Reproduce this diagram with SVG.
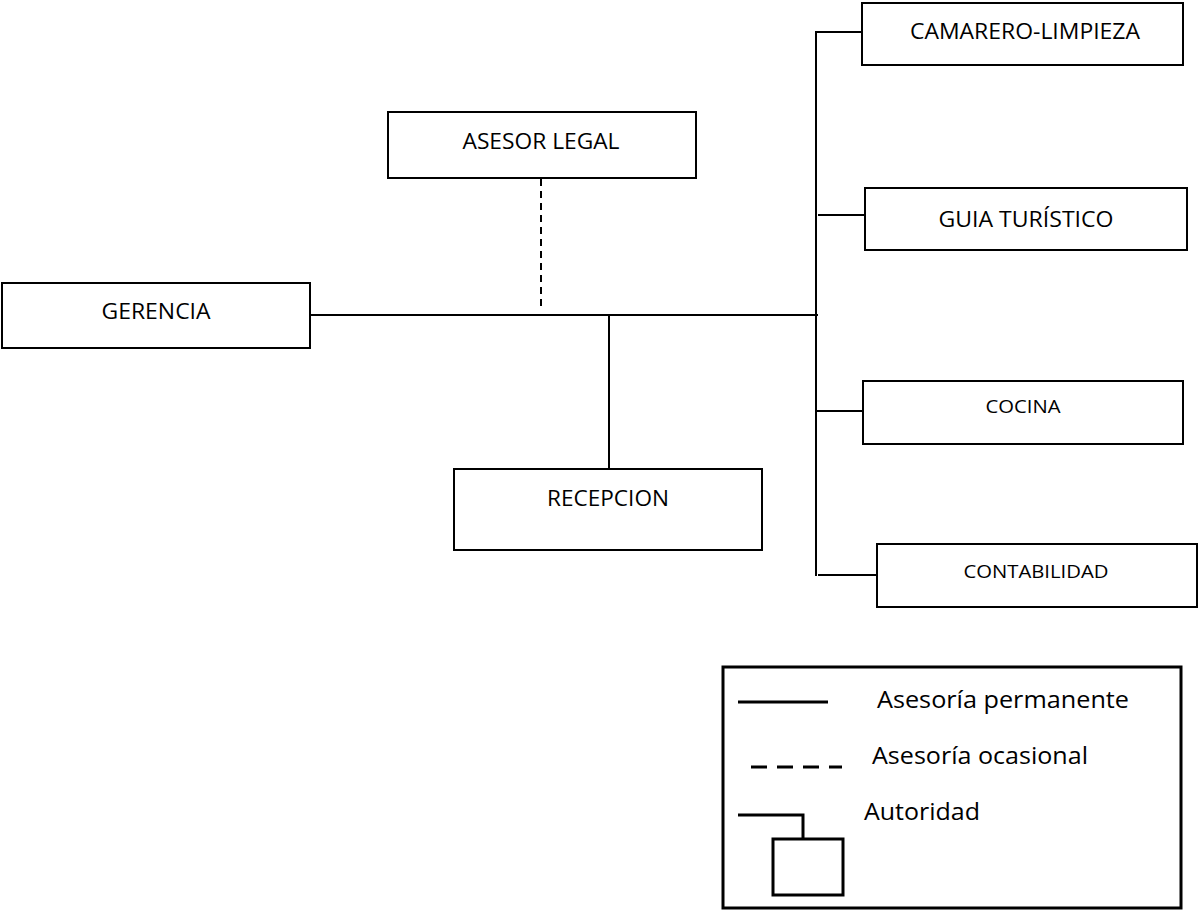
<svg xmlns="http://www.w3.org/2000/svg" width="1199" height="916" viewBox="0 0 1199 916">
<style>
.box{fill:#fff;stroke:#000;stroke-width:2}
.t{font-family:"Open Sans","Liberation Sans",sans-serif;font-size:22px;fill:#000;text-anchor:middle}
.ts{font-size:19px}
.c{stroke:#000;stroke-width:2;fill:none}
.lg{font-family:"Open Sans","Liberation Sans",sans-serif;font-size:23px;fill:#000}
.lgl{stroke:#000;stroke-width:3;fill:none}
</style>
<rect width="1199" height="916" fill="#fff"/>
<g id="connectors">
<line class="c" x1="310" y1="315" x2="818" y2="315"/>
<line class="c" x1="541" y1="179" x2="541" y2="311" stroke-dasharray="7 5"/>
<line class="c" x1="609" y1="315" x2="609" y2="469"/>
<line class="c" x1="816" y1="32" x2="816" y2="576"/>
<line class="c" x1="815" y1="32" x2="862" y2="32"/>
<line class="c" x1="818" y1="215" x2="865" y2="215"/>
<line class="c" x1="816" y1="411" x2="863" y2="411"/>
<line class="c" x1="818" y1="575" x2="877" y2="575"/>
</g>
<g id="asesor-legal">
<rect class="box" x="388" y="112" width="308" height="66"/>
<text class="t" x="541" y="149" textLength="157" lengthAdjust="spacingAndGlyphs">ASESOR LEGAL</text>
</g>
<g id="gerencia">
<rect class="box" x="2" y="283" width="308" height="65"/>
<text class="t" x="156" y="319" textLength="109" lengthAdjust="spacingAndGlyphs">GERENCIA</text>
</g>
<g id="recepcion">
<rect class="box" x="454" y="469" width="308" height="81"/>
<text class="t" x="608" y="506" textLength="122" lengthAdjust="spacingAndGlyphs">RECEPCION</text>
</g>
<g id="camarero-limpieza">
<rect class="box" x="862" y="3" width="321" height="62"/>
<text class="t" x="1025" y="39" textLength="230" lengthAdjust="spacingAndGlyphs">CAMARERO-LIMPIEZA</text>
</g>
<g id="guia-turistico">
<rect class="box" x="865" y="188" width="322" height="62"/>
<text class="t" x="1026" y="227" textLength="175" lengthAdjust="spacingAndGlyphs">GUIA TURÍSTICO</text>
</g>
<g id="cocina">
<rect class="box" x="863" y="381" width="320" height="63"/>
<text class="t ts" x="1023" y="413" textLength="75" lengthAdjust="spacingAndGlyphs">COCINA</text>
</g>
<g id="contabilidad">
<rect class="box" x="877" y="544" width="320" height="63"/>
<text class="t ts" x="1036" y="578" textLength="145" lengthAdjust="spacingAndGlyphs">CONTABILIDAD</text>
</g>
<g id="legend">
<rect x="723" y="667" width="458" height="241" fill="#fff" stroke="#000" stroke-width="3"/>
<line class="lgl" x1="738" y1="702" x2="828" y2="702"/>
<text class="lg" x="877" y="708" textLength="252" lengthAdjust="spacingAndGlyphs">Asesoría permanente</text>
<line class="lgl" x1="751" y1="767" x2="842" y2="767" stroke-dasharray="16 10"/>
<text class="lg" x="872" y="764" textLength="216" lengthAdjust="spacingAndGlyphs">Asesoría ocasional</text>
<polyline class="lgl" points="738,815 803,815 803,839"/>
<rect x="773" y="839" width="70" height="56" fill="#fff" stroke="#000" stroke-width="3"/>
<text class="lg" x="864" y="820" textLength="116" lengthAdjust="spacingAndGlyphs">Autoridad</text>
</g>
</svg>
